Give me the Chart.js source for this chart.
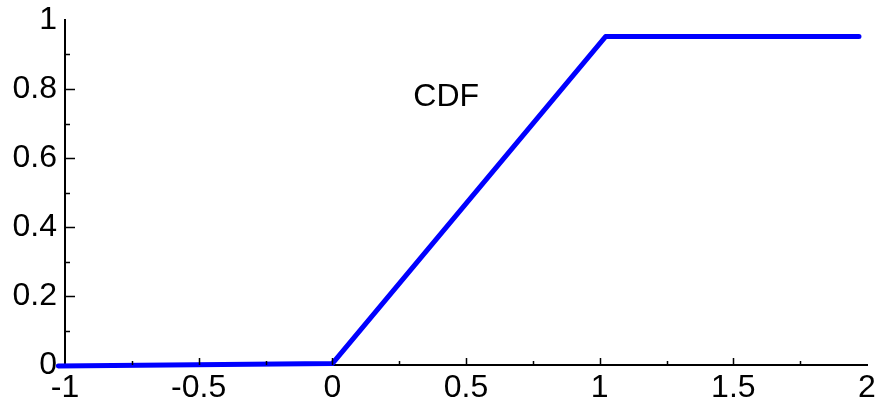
<!DOCTYPE html>
<html>
<head>
<meta charset="utf-8">
<script src="https://cdn.jsdelivr.net/npm/chart.js@4/dist/chart.umd.min.js"></script>
<style>
  html, body { margin: 0; padding: 0; background: #ffffff; }
  #wrap { width: 877px; height: 401px; }
</style>
</head>
<body>
<div id="wrap"><canvas id="cdf"></canvas></div>
<script>
// Piecewise-linear CDF curve
const cdfX = [-1.025, 0.0, 1.022, 1.97];
const cdfY = [-0.003, 0.004, 0.952, 0.952];

// Axis ticks
const xTickValues = [-1, -0.5, 0, 0.5, 1, 1.5, 2];
const xTickLabels = ['-1', '-0.5', '0', '0.5', '1', '1.5', '2'];
const yTickValues = [0, 0.2, 0.4, 0.6, 0.8, 1];
const yTickLabels = ['0', '0.2', '0.4', '0.6', '0.8', '1'];
const xMinorTicks = [-0.75, -0.5, -0.25, 0, 0.25, 0.5, 0.75, 1, 1.25, 1.5, 1.75];
const xMajorMarks = [-0.5, 0, 0.5, 1, 1.5];
const yMinorTicks = [0.1, 0.3, 0.5, 0.7, 0.9];
const yMajorMarks = [0.2, 0.4, 0.6, 0.8];

// Curve caption and its anchor in data units
const captionText = 'CDF';
const captionX = 0.426;
const captionY = 0.776;

const FONT = '"Liberation Sans", Arial, Helvetica, sans-serif';

const points = cdfX.map((x, i) => ({ x: x, y: cdfY[i] }));

// Tick marks drawn inside the plot, major longer than minor
const innerTicks = {
  id: 'innerTicks',
  afterDraw(chart) {
    const { ctx, scales: { x, y } } = chart;
    const x0 = x.getPixelForValue(-1);
    const y0 = y.getPixelForValue(0);
    ctx.save();
    ctx.strokeStyle = '#000000';
    ctx.lineWidth = 1.5;
    ctx.beginPath();
    xMinorTicks.forEach(v => {
      const px = Math.round(x.getPixelForValue(v)) + 0.5;
      const len = xMajorMarks.includes(v) ? 7 : 4;
      ctx.moveTo(px, y0);
      ctx.lineTo(px, y0 - len);
    });
    yMajorMarks.forEach(v => {
      const py = Math.round(y.getPixelForValue(v)) + 0.5;
      ctx.moveTo(x0, py);
      ctx.lineTo(x0 + 10, py);
    });
    yMinorTicks.forEach(v => {
      const py = Math.round(y.getPixelForValue(v)) + 0.5;
      ctx.moveTo(x0, py);
      ctx.lineTo(x0 + 5, py);
    });
    ctx.stroke();

    // caption next to the rising segment
    ctx.fillStyle = '#000000';
    ctx.font = '32px ' + FONT;
    ctx.textAlign = 'center';
    ctx.textBaseline = 'middle';
    ctx.fillText(captionText, x.getPixelForValue(captionX), y.getPixelForValue(captionY));
    ctx.restore();
  }
};

new Chart(document.getElementById('cdf'), {
  type: 'scatter',
  data: {
    datasets: [{
      data: points,
      showLine: true,
      borderColor: '#0000ff',
      borderWidth: 5,
      borderCapStyle: 'round',
      borderJoinStyle: 'round',
      pointRadius: 0,
      pointHoverRadius: 0,
      tension: 0,
      clip: false
    }]
  },
  options: {
    responsive: true,
    maintainAspectRatio: false,
    animation: false,
    events: [],
    layout: { padding: { left: 0, right: 10, top: 20, bottom: 0 } },
    plugins: {
      legend: { display: false },
      tooltip: { enabled: false },
      title: { display: false }
    },
    scales: {
      x: {
        type: 'linear',
        min: -1,
        max: 2,
        afterBuildTicks: s => { s.ticks = xTickValues.map(v => ({ value: v })); },
        afterFit: s => { s.height = 36; s.paddingLeft = 0; s.paddingRight = 0; },
        grid: { display: false, drawTicks: false },
        border: { display: true, color: '#000000', width: 2 },
        ticks: {
          autoSkip: false,
          maxRotation: 0,
          padding: 4,
          color: '#000000',
          font: { family: FONT, size: 32 },
          callback: (v) => xTickLabels[xTickValues.indexOf(v)]
        }
      },
      y: {
        type: 'linear',
        min: 0,
        max: 1,
        afterBuildTicks: s => { s.ticks = yTickValues.map(v => ({ value: v })); },
        afterFit: s => { s.width = 65; s.paddingTop = 0; s.paddingBottom = 0; },
        grid: { display: false, drawTicks: false },
        border: { display: true, color: '#000000', width: 2 },
        ticks: {
          autoSkip: false,
          padding: 8,
          color: '#000000',
          font: { family: FONT, size: 32 },
          callback: (v) => yTickLabels[yTickValues.indexOf(v)]
        }
      }
    }
  },
  plugins: [innerTicks]
});
</script>
</body>
</html>
